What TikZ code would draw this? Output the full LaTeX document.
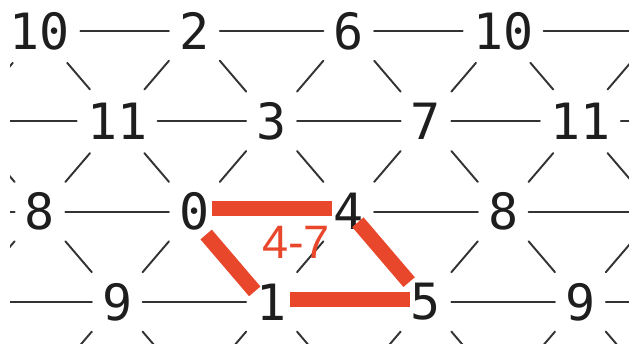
\documentclass[tikz,border=0pt]{standalone}
\usepackage{fontspec}
\newfontfamily\numfont{DejaVu Sans Mono}
\newfontfamily\tagfont{Liberation Sans}
\definecolor{hlred}{RGB}{233,71,44}
\definecolor{ink}{RGB}{30,30,30}
\definecolor{linkgray}{RGB}{51,51,51}
\begin{document}
\begin{tikzpicture}[x=0.02cm,y=-0.02cm,line cap=round,line join=round,
  num/.style={font=\numfont\fontsize{28.45}{34}\selectfont,text=ink,inner xsep=0.2cm,inner ysep=0pt,minimum height=1.26cm},
  link/.style={draw=linkgray,line width=1.1pt},
  hl/.style={draw=hlred,line width=8.5pt,line cap=butt},
  tag/.style={font=\tagfont\fontsize{26.7}{32}\selectfont,text=hlred,inner sep=0pt}]
  \useasboundingbox (0,0) rectangle (629,344);
  \clip (10,0) rectangle (629,344);
  % lattice points, rows 0-3 carry the numbers
  \foreach \r/\base in {-1/1,0/10,1/11,2/8,3/9,4/6}
    \foreach \c in {-2,...,5} {
      \pgfmathsetmacro\px{40+154.4*\c+77.2*mod(\r+2,2)}
      \pgfmathsetmacro\py{31+90.3*\r}
      \pgfmathtruncatemacro\lab{mod(\base+4*\c+24,12)}
      \pgfmathtruncatemacro\vis{(\r>=0) && (\r<=3) && (\c>=0) && (\c<=3)}
      \ifnum\vis=1
        \node[num] (n-\r-\c) at (\px,\py) {\lab};
      \else
        \coordinate (n-\r-\c) at (\px,\py);
      \fi
    }
  % links along a row
  \foreach \r in {0,...,3}
    \foreach \c in {-1,...,4} {
      \pgfmathtruncatemacro\cn{\c+1}
      \draw[link] (n-\r-\c) -- (n-\r-\cn);
    }
  % slanted links down to the next row
  \foreach \r in {0,...,3}
    \foreach \c in {-1,...,4} {
      \pgfmathtruncatemacro\rn{\r+1}
      \pgfmathtruncatemacro\dl{\c-1+mod(\r,2)}
      \pgfmathtruncatemacro\dr{\c+mod(\r,2)}
      \draw[link] (n-\r-\c) -- (n-\rn-\dl);
      \draw[link] (n-\r-\c) -- (n-\rn-\dr);
    }
  % the marked chord 0-4-5-1
  \draw[hl,shorten <=0.35cm,shorten >=0.34cm] ([yshift=0.07cm]n-2-1.center) -- ([yshift=0.07cm]n-2-2.center);
  \draw[hl,shorten <=0.37cm,shorten >=0.32cm] ([yshift=0.05cm]n-3-1.center) -- ([yshift=0.05cm]n-3-2.center);
  \draw[hl,shorten <=0.5cm,shorten >=0.38cm] ([shift={(-4.5,3.9)}]n-2-1.center) -- ([shift={(-4.5,3.9)}]n-3-1.center);
  \draw[hl,shorten <=0.28cm,shorten >=0.52cm] (n-2-2.center) -- (n-3-2.center);
  \node[tag] (chord) at (296,242) {4-7};
\end{tikzpicture}
\end{document}
